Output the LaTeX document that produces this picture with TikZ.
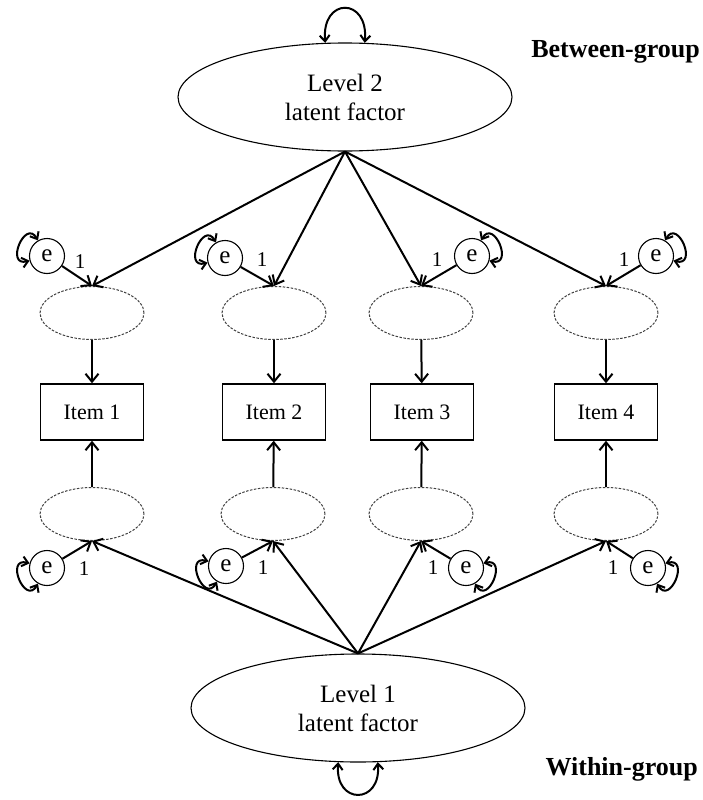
\documentclass[tikz,border=0pt]{standalone}
\usepackage{fontspec}
\setmainfont{Liberation Serif}
\usetikzlibrary{shapes.geometric,arrows.meta}
\begin{document}
\begin{tikzpicture}[x=1pt,y=1pt,
 arr/.style={line width=2pt,-{Straight Barb[length=8pt,width=13pt]}},
 dbl/.style={line width=2pt,{Straight Barb[length=6pt,width=10pt]}-{Straight Barb[length=6pt,width=10pt]}},
 big/.style={ellipse,draw,line width=1.1pt,minimum width=334pt,minimum height=108pt,inner sep=0pt,align=center,font=\fontsize{25}{29}\selectfont},
 lat/.style={ellipse,draw,draw=black!75,dash pattern=on 2.5pt off 1.5pt,line width=1pt,minimum width=104pt,minimum height=53pt,inner sep=0pt},
 item/.style={rectangle,draw,line width=1.4pt,minimum width=103pt,minimum height=56pt,font=\fontsize{22}{26}\selectfont},
 err/.style={circle,draw,line width=1.1pt,minimum size=35pt,inner sep=0pt,font=\fontsize{25}{30}\selectfont},
 one/.style={font=\fontsize{21}{25}\selectfont,inner sep=0pt},
 grp/.style={font=\bfseries\fontsize{26}{30}\selectfont,inner sep=0pt}]
\useasboundingbox (0,0) rectangle (702,-800);
% latent factors
\node[big] (L2) at (345,-97) {Level 2\\latent factor};
\node[big] (L1) at (358,-708) {Level 1\\latent factor};
\node[grp,anchor=base east] (bg) at (700,-58) {Between-group};
\node[grp,anchor=base east] (wg) at (698,-775) {Within-group};
% upper latent
\node[lat] (u1) at (92,-313) {};
\node[lat] (u2) at (274,-313) {};
\node[lat] (u3) at (421,-313) {};
\node[lat] (u4) at (606,-313) {};
% items
\node[item] (i1) at (92,-412) {Item 1};
\node[item] (i2) at (274,-412) {Item 2};
\node[item] (i3) at (422,-412) {Item 3};
\node[item] (i4) at (606,-412) {Item 4};
% lower latent
\node[lat] (d1) at (92,-514) {};
\node[lat] (d2) at (273,-514) {};
\node[lat] (d3) at (421,-514) {};
\node[lat] (d4) at (606,-514) {};
% errors
\node[err] (eu1) at (47,-256) {e};
\node[err] (eu2) at (225,-258) {e};
\node[err] (eu3) at (472,-256) {e};
\node[err] (eu4) at (656,-256) {e};
\node[err] (ed1) at (47,-568) {e};
\node[err] (ed2) at (226,-566) {e};
\node[err] (ed3) at (466,-568) {e};
\node[err] (ed4) at (648,-568) {e};
% labels 1
\node[one] (ou1) at (80,-262) {1};
\node[one] (ou2) at (262,-260) {1};
\node[one] (ou3) at (437,-260) {1};
\node[one] (ou4) at (624,-260) {1};
\node[one] (od1) at (84,-569) {1};
\node[one] (od2) at (263,-568) {1};
\node[one] (od3) at (433,-568) {1};
\node[one] (od4) at (613,-568) {1};
% self loops on latent factors
\draw[dbl] (L2.110) to[out=95,in=85,looseness=3] (L2.70);
\draw[dbl] (L1.250) to[out=-95,in=-85,looseness=2.8] (L1.290);
% loops on errors
\draw[dbl] (eu1) to[out=195,in=120,looseness=3] (eu1);
\draw[dbl] (eu2) to[out=195,in=120,looseness=3] (eu2);
\draw[dbl] (eu3) to[out=60,in=-15,looseness=3] (eu3);
\draw[dbl] (eu4) to[out=60,in=-15,looseness=3] (eu4);
\draw[dbl] (ed1) to[out=165,in=240,looseness=3] (ed1);
\draw[dbl] (ed2) to[out=165,in=240,looseness=3] (ed2);
\draw[dbl] (ed3) to[out=15,in=-60,looseness=3] (ed3);
\draw[dbl] (ed4) to[out=15,in=-60,looseness=3] (ed4);
% loadings
\foreach \n in {u1,u2,u3,u4} \draw[arr] (L2.south) -- (\n.north);
\foreach \n in {d1,d2,d3,d4} \draw[arr] (L1.north) -- (\n.south);
% errors to latents
\foreach \e/\n in {eu1/u1,eu2/u2,eu3/u3,eu4/u4} \draw[arr] (\e) -- (\n.north);
\foreach \e/\n in {ed1/d1,ed2/d2,ed3/d3,ed4/d4} \draw[arr] (\e) -- (\n.south);
% latents to items
\foreach \a/\b in {u1/i1,u2/i2,u3/i3,u4/i4,d1/i1,d2/i2,d3/i3,d4/i4} \draw[arr] (\a) -- (\b);
\end{tikzpicture}
\end{document}
